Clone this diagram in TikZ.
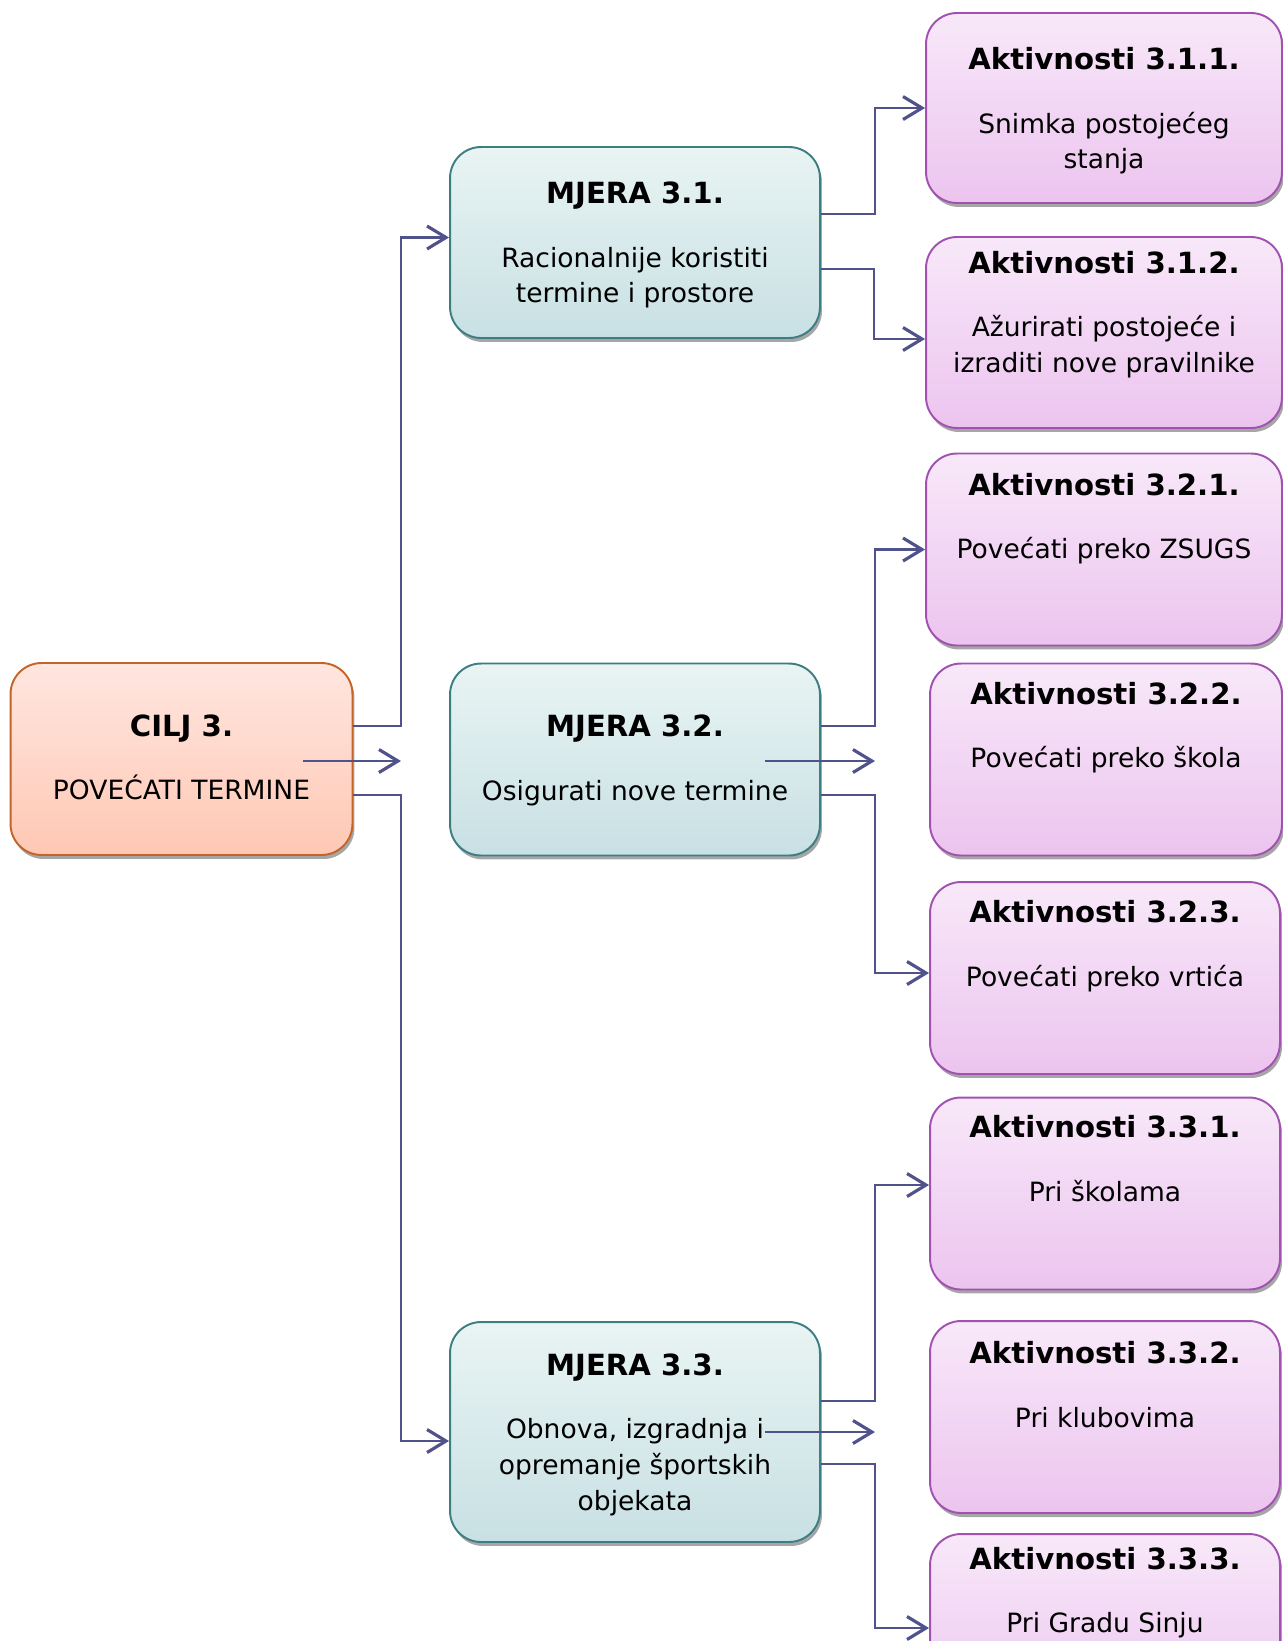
\documentclass[tikz,border=0pt]{standalone}
\usepackage{fontspec}
\setmainfont{DejaVu Sans}
\usepackage{tikz}
\usetikzlibrary{arrows.meta, shadows, calc}

\definecolor{linija}{RGB}{80,82,140}
\definecolor{ciljrub}{RGB}{197,100,40}
\definecolor{ciljgore}{RGB}{255,230,224}
\definecolor{ciljdolje}{RGB}{255,200,180}
\definecolor{mjerarub}{RGB}{60,126,131}
\definecolor{mjeragore}{RGB}{233,244,243}
\definecolor{mjeradolje}{RGB}{200,224,228}
\definecolor{aktrub}{RGB}{161,82,176}
\definecolor{aktgore}{RGB}{248,232,249}
\definecolor{aktdolje}{RGB}{236,196,239}

\newcommand{\naslov}[1]{{\bfseries\fontsize{16.6}{20.4}\selectfont #1}\\[15.6pt]}

\begin{document}
\begin{tikzpicture}[
            x = 0.02cm, y = -0.02cm, % one unit = one pixel of the plan
            veza/.style = {draw = linija, line width = 1.3pt,
                -{Straight Barb[length=0.38cm, width=0.46cm, line width=1.8pt]}},
            okvir/.style = {rectangle, rounded corners = 0.62cm, line width = 1.1pt,
                inner sep = 0pt, align = center,
                font = \fontsize{15.1}{20.4}\selectfont,
                drop shadow = {shadow xshift=0.04cm, shadow yshift=-0.08cm, opacity=0.7}},
            pomak/.style 2 args = {text height = #1, text depth = #2} % last baseline
        ]

        \tikzstyle{cilj}=[okvir, draw = ciljrub, top color = ciljgore,
            bottom color = ciljdolje, minimum width = 6.84cm]
        \tikzstyle{mjera}=[okvir, draw = mjerarub, top color = mjeragore,
            bottom color = mjeradolje, minimum width = 7.4cm]
        \tikzstyle{aktivnost}=[okvir, draw = aktrub, top color = aktgore,
            bottom color = aktdolje, minimum width = 7.0cm]

        \useasboundingbox (0,0) rectangle (1283,1641);

        % goal
        \node[cilj, pomak={2.73cm}{1.11cm}] (c3) at (181.5,759)
            {\naslov{CILJ 3.} POVEĆATI TERMINE};

        % measures
        \node[mjera, pomak={3.12cm}{0.70cm}] (m31) at (635,242.5)
            {\naslov{MJERA 3.1.} Racionalnije koristiti\\termine i prostore};
        \node[mjera, pomak={2.73cm}{1.11cm}] (m32) at (635,759.5)
            {\naslov{MJERA 3.2.} Osigurati nove termine};
        \node[mjera, pomak={3.76cm}{0.64cm}] (m33) at (635,1432)
            {\naslov{MJERA 3.3.} Obnova, izgradnja i\\opremanje športskih\\objekata};

        % activities
        \node[aktivnost, minimum width=7.12cm, pomak={3.12cm}{0.68cm}] (a311) at (1104,108)
            {\naslov{Aktivnosti 3.1.1.} Snimka postojećeg\\stanja};
        \node[aktivnost, minimum width=7.12cm, pomak={2.71cm}{1.11cm}] (a312) at (1104,332.5)
            {\naslov{Aktivnosti 3.1.2.} Ažurirati postojeće i\\izraditi nove pravilnike};
        \node[aktivnost, minimum width=7.12cm, pomak={2.10cm}{1.74cm}] (a321) at (1104,549.5)
            {\naslov{Aktivnosti 3.2.1.} Povećati preko ZSUGS};
        \node[aktivnost, minimum width=7.04cm, pomak={2.08cm}{1.76cm}] (a322) at (1106,759.5)
            {\naslov{Aktivnosti 3.2.2.} Povećati preko škola};
        \node[aktivnost, pomak={2.08cm}{1.76cm}] (a323) at (1105,978)
            {\naslov{Aktivnosti 3.2.3.} Povećati preko vrtića};
        \node[aktivnost, pomak={2.07cm}{1.77cm}] (a331) at (1105,1193.5)
            {\naslov{Aktivnosti 3.3.1.} Pri školama};
        \node[aktivnost, pomak={2.12cm}{1.72cm}] (a332) at (1105,1417)
            {\naslov{Aktivnosti 3.3.2.} Pri klubovima};
        \node[aktivnost, pomak={1.97cm}{1.87cm}] (a333) at (1105,1630)
            {\naslov{Aktivnosti 3.3.3.} Pri Gradu Sinju};

        % loose arrows
        \coordinate (c3a) at (303,761);
        \coordinate (c3b) at (401,761);
        \coordinate (m32a) at (765,761);
        \coordinate (m32b) at (875,761);
        \coordinate (m33a) at (765,1432);
        \coordinate (m33b) at (875,1432);

        \draw[veza] (c3.east |- 0,726) -| (401,237.5) -- (m31.west |- 0,237.5);
        \draw[veza] (c3.east |- 0,795) -| (401,1441) -- (m33.west |- 0,1441);
        \draw[veza] (c3a) -- (c3b);

        \draw[veza] (m31.east |- 0,214) -| (875,108) -- (a311.west);
        \draw[veza] (m31.east |- 0,269) -| (874,339) -- (a312.west |- 0,339);

        \draw[veza] (m32.east |- 0,726) -| (875,549.5) -- (a321.west);
        \draw[veza] (m32a) -- (m32b);
        \draw[veza] (m32.east |- 0,795) -| (875,973) -- (a323.west |- 0,973);

        \draw[veza] (m33.east |- 0,1401) -| (875,1185) -- (a331.west |- 0,1185);
        \draw[veza] (m33a) -- (m33b);
        \draw[veza] (m33.east |- 0,1464) -| (875,1628) -- (a333.west |- 0,1628);

  \end{tikzpicture}
\end{document}
